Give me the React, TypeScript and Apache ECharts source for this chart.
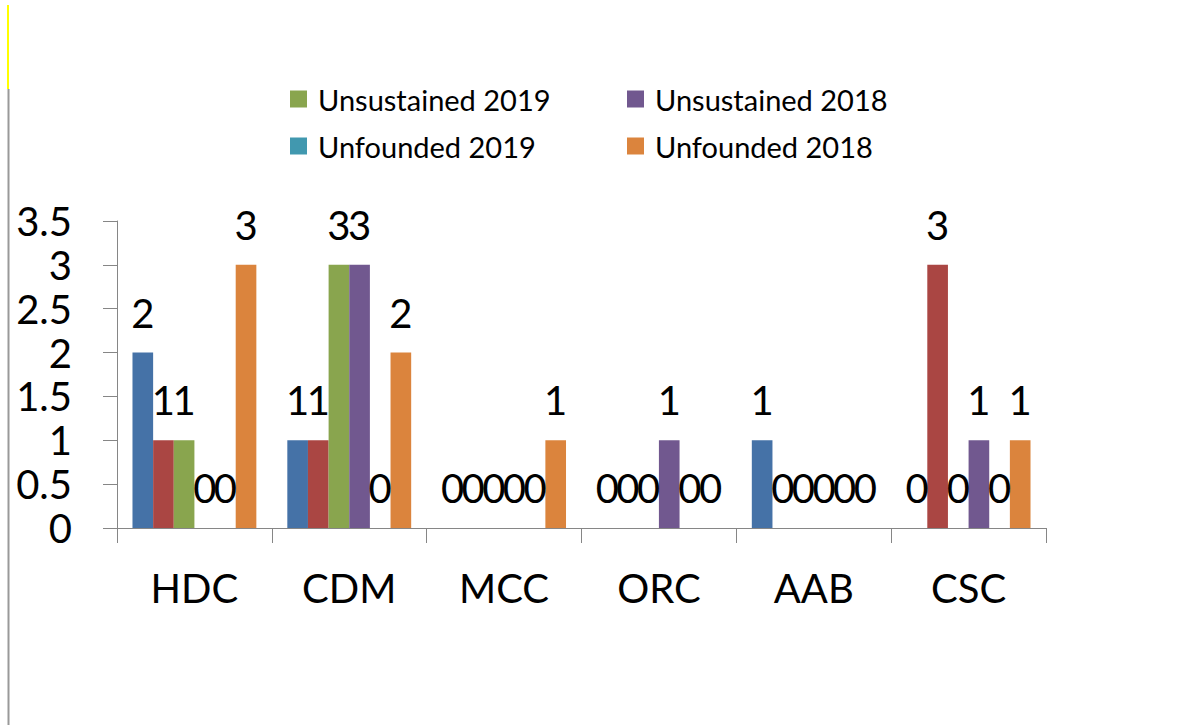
import React, { useEffect, useRef } from "react";
import * as echarts from "echarts";

const categories = ["HDC", "CDM", "MCC", "ORC", "AAB", "CSC"];
const seriesNames = [
  "Sustained 2019",
  "Sustained 2018",
  "Unsustained 2019",
  "Unsustained 2018",
  "Unfounded 2019",
  "Unfounded 2018",
];
const sustained2019 = [2, 1, 0, 0, 1, 0];
const sustained2018 = [1, 1, 0, 0, 0, 3];
const unsustained2019 = [1, 3, 0, 0, 0, 0];
const unsustained2018 = [0, 3, 0, 1, 0, 1];
const unfounded2019 = [0, 0, 0, 0, 0, 0];
const unfounded2018 = [3, 2, 1, 0, 0, 1];
const seriesValues = [
  sustained2019,
  sustained2018,
  unsustained2019,
  unsustained2018,
  unfounded2019,
  unfounded2018,
];
const colors = ["#4572A7", "#AA4643", "#89A54E", "#71588F", "#4198AF", "#DB843D"];
const yTicks = [0, 0.5, 1, 1.5, 2, 2.5, 3, 3.5];

const FONT = "Lato, 'Open Sans', sans-serif";

export default function App() {
  const ref = useRef<HTMLDivElement>(null);
  useEffect(() => {
    if (!ref.current) return;
    const chart = echarts.init(ref.current, undefined, { renderer: "svg" });
    const legendPos = [
      { name: seriesNames[2], left: 290, top: 84 },
      { name: seriesNames[3], left: 627, top: 84 },
      { name: seriesNames[4], left: 290, top: 131 },
      { name: seriesNames[5], left: 627, top: 131 },
    ];
    chart.setOption({
      animation: false,
      backgroundColor: "#ffffff",
      textStyle: { fontFamily: FONT },
      legend: legendPos.map((l) => ({
        data: [l.name],
        left: l.left,
        top: l.top,
        icon: "rect",
        itemWidth: 17,
        itemHeight: 17,
        padding: 0,
        selectedMode: false,
        textStyle: {
          fontFamily: FONT,
          fontSize: 29,
          lineHeight: 30,
          color: "#000",
          padding: [0, 0, 0, 6],
        },
      })),
      grid: { left: 117, right: 131, top: 221, bottom: 197, containLabel: false },
      xAxis: {
        type: "category",
        data: categories,
        axisLine: { show: true, lineStyle: { color: "#868686", width: 1 } },
        axisTick: { show: true, length: 15, alignWithLabel: false, lineStyle: { color: "#868686" } },
        axisLabel: { fontSize: 40, lineHeight: 40, color: "#000", margin: 40, fontFamily: FONT },
        splitLine: { show: false },
      },
      yAxis: {
        type: "value",
        min: yTicks[0],
        max: yTicks[yTicks.length - 1],
        interval: 0.5,
        axisLine: { show: true, lineStyle: { color: "#868686", width: 1 } },
        axisTick: { show: true, length: 14, lineStyle: { color: "#868686" } },
        axisLabel: { fontSize: 40, lineHeight: 40, color: "#000", margin: 45, fontFamily: FONT },
        splitLine: { show: false },
      },
      series: seriesNames.map((name, i) => ({
        name,
        type: "bar",
        data: seriesValues[i],
        barGap: "0%",
        barCategoryGap: "20%",
        itemStyle: { color: colors[i] },
        label: {
          show: true,
          position: "top",
          distance: 20,
          fontSize: 40,
          lineHeight: 40,
          color: "#000",
          fontFamily: FONT,
        },
      })),
      graphic: [
        {
          type: "line",
          shape: { x1: 8, y1: 5, x2: 8, y2: 89 },
          style: { stroke: "#FFFF00", lineWidth: 2 },
        },
        {
          type: "line",
          shape: { x1: 8.5, y1: 89, x2: 8.5, y2: 725 },
          style: { stroke: "#999999", lineWidth: 2 },
        },
      ],
    });
    return () => chart.dispose();
  }, []);
  return (
    <div
      ref={ref}
      style={{ position: "fixed", left: 0, top: 0, width: 1177, height: 725, background: "#fff" }}
    />
  );
}
